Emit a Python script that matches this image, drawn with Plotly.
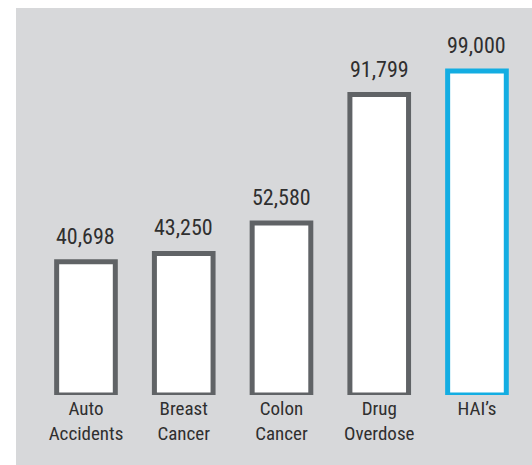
import plotly.graph_objects as go

categories = ["Auto<br>Accidents", "Breast<br>Cancer", "Colon<br>Cancer", "Drug<br>Overdose", "HAI’s"]
values = [40698, 43250, 52580, 91799, 99000]
value_labels = ["40,698", "43,250", "52,580", "91,799", "99,000"]
outline_colors = ["#606366", "#606366", "#606366", "#606366", "#13ade2"]

FONT = "Liberation Sans Narrow, Arial Narrow, Roboto Condensed, DejaVu Sans Condensed, sans-serif"

fig = go.Figure()
fig.add_trace(go.Bar(
    x=list(range(len(categories))),
    y=values,
    width=0.6,
    marker=dict(color="white", line=dict(color=outline_colors, width=5)),
    hoverinfo="skip",
))

for i, (v, lab) in enumerate(zip(values, value_labels)):
    fig.add_annotation(x=i, y=v, text=lab, showarrow=False, yanchor="bottom",
                       yshift=11, font=dict(size=22, color="#2f2f2f", family=FONT))

fig.add_shape(type="rect", xref="paper", yref="paper", x0=0, x1=1.05, y0=-0.3, y1=1,
              fillcolor="#d7d8da", line=dict(width=0), layer="below")

fig.update_layout(
    width=532, height=465,
    margin=dict(l=16, r=0, t=8, b=70),
    paper_bgcolor="white",
    plot_bgcolor="rgba(0,0,0,0)",
    showlegend=False,
    xaxis=dict(range=[-0.716, 4.563], tickmode="array", tickvals=list(range(len(categories))),
               ticktext=categories, showgrid=False, zeroline=False, showline=False,
               ticks="", tickfont=dict(size=19, color="#2f2f2f", family=FONT)),
    yaxis=dict(range=[0, 118250], visible=False, showgrid=False, zeroline=False),
)

fig.write_html("out.html", config={"displayModeBar": False},
               post_script="document.body.style.margin='0';document.body.style.overflow='hidden';")
